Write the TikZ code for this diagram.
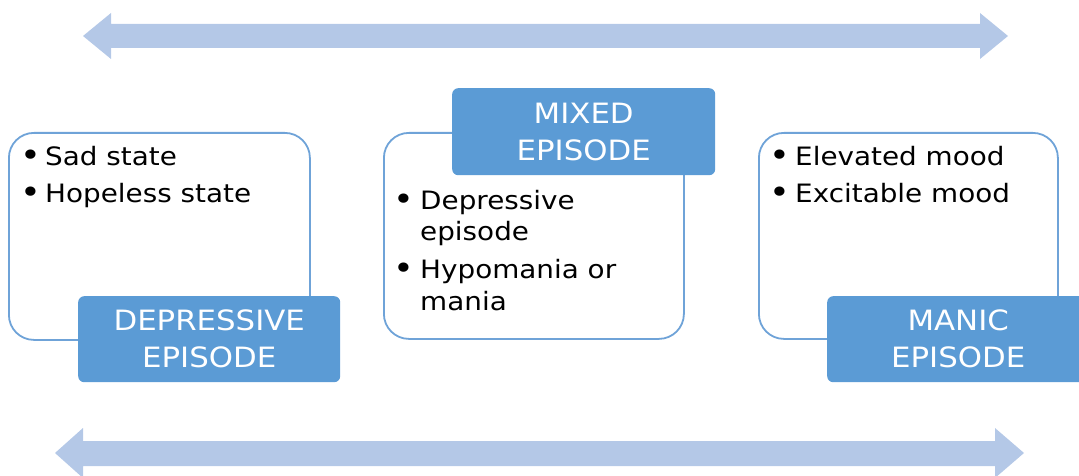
\documentclass[tikz,border=0pt]{standalone}
\usepackage{fontspec}
\setmainfont{DejaVu Sans}[FakeStretch=1.1]
\definecolor{arrowblue}{HTML}{B4C8E7}
\definecolor{labelblue}{HTML}{5B9BD5}
\definecolor{boxline}{HTML}{6FA3D8}
\begin{document}
\begin{tikzpicture}[x=1pt,y=-1pt,
  outline/.style={draw=boxline, line width=1.8pt, fill=white, rounded corners=25pt, anchor=north west, inner sep=0pt},
  labelbox/.style={fill=labelblue, rounded corners=6pt, anchor=north west, inner sep=0pt, text=white, align=center,
     font=\fontsize{28}{37}\selectfont},
  itemtext/.style={font=\fontsize{25.3}{31}\selectfont, anchor=base west, inner sep=0pt},
  bulletmark/.style={font=\fontsize{32}{31}\selectfont, anchor=base, inner sep=0pt},
  bigarrow/.style={fill=arrowblue}]
\useasboundingbox (0,0) rectangle (1079,476);

% top double arrow
\fill[bigarrow] (83,36) -- (111,13) -- (111,24) -- (980,24) -- (980,13) -- (1008,36)
  -- (980,59) -- (980,48) -- (111,48) -- (111,59) -- cycle;
% bottom double arrow
\fill[bigarrow] (55,453) -- (83,428) -- (83,441) -- (995,441) -- (995,428) -- (1024,453)
  -- (995,478) -- (995,466) -- (83,466) -- (83,478) -- cycle;

% depressive
\node[outline, minimum width=301pt, minimum height=207pt] (depbox) at (8,132) {};
\node[bulletmark] (depb1) at (31,166) {•};
\node[itemtext] (dept1) at (45,165) {Sad state};
\node[bulletmark] (depb2) at (31,203) {•};
\node[itemtext] (dept2) at (45,202) {Hopeless state};
\node[labelbox, minimum width=262pt, minimum height=86pt] (deplabel) at (78,296) {DEPRESSIVE\\EPISODE};

% mixed
\node[outline, minimum width=300pt, minimum height=206pt] (mixbox) at (383,132) {};
\node[labelbox, minimum width=263pt, minimum height=87pt] (mixlabel) at (452,88) {MIXED\\EPISODE};
\node[bulletmark] (mixb1) at (404,210) {•};
\node[itemtext] (mixt1) at (420,209) {Depressive};
\node[itemtext] (mixt1b) at (420,240) {episode};
\node[bulletmark] (mixb2) at (404,279) {•};
\node[itemtext] (mixt2) at (420,278) {Hypomania or};
\node[itemtext] (mixt2b) at (420,310) {mania};

% manic
\node[outline, minimum width=299pt, minimum height=206pt] (manbox) at (758,132) {};
\node[bulletmark] (manb1) at (780,166) {•};
\node[itemtext] (mant1) at (795,165) {Elevated mood};
\node[bulletmark] (manb2) at (780,203) {•};
\node[itemtext] (mant2) at (795,202) {Excitable mood};
\node[labelbox, minimum width=262pt, minimum height=86pt] (manlabel) at (827,296) {MANIC\\EPISODE};
\end{tikzpicture}
\end{document}
